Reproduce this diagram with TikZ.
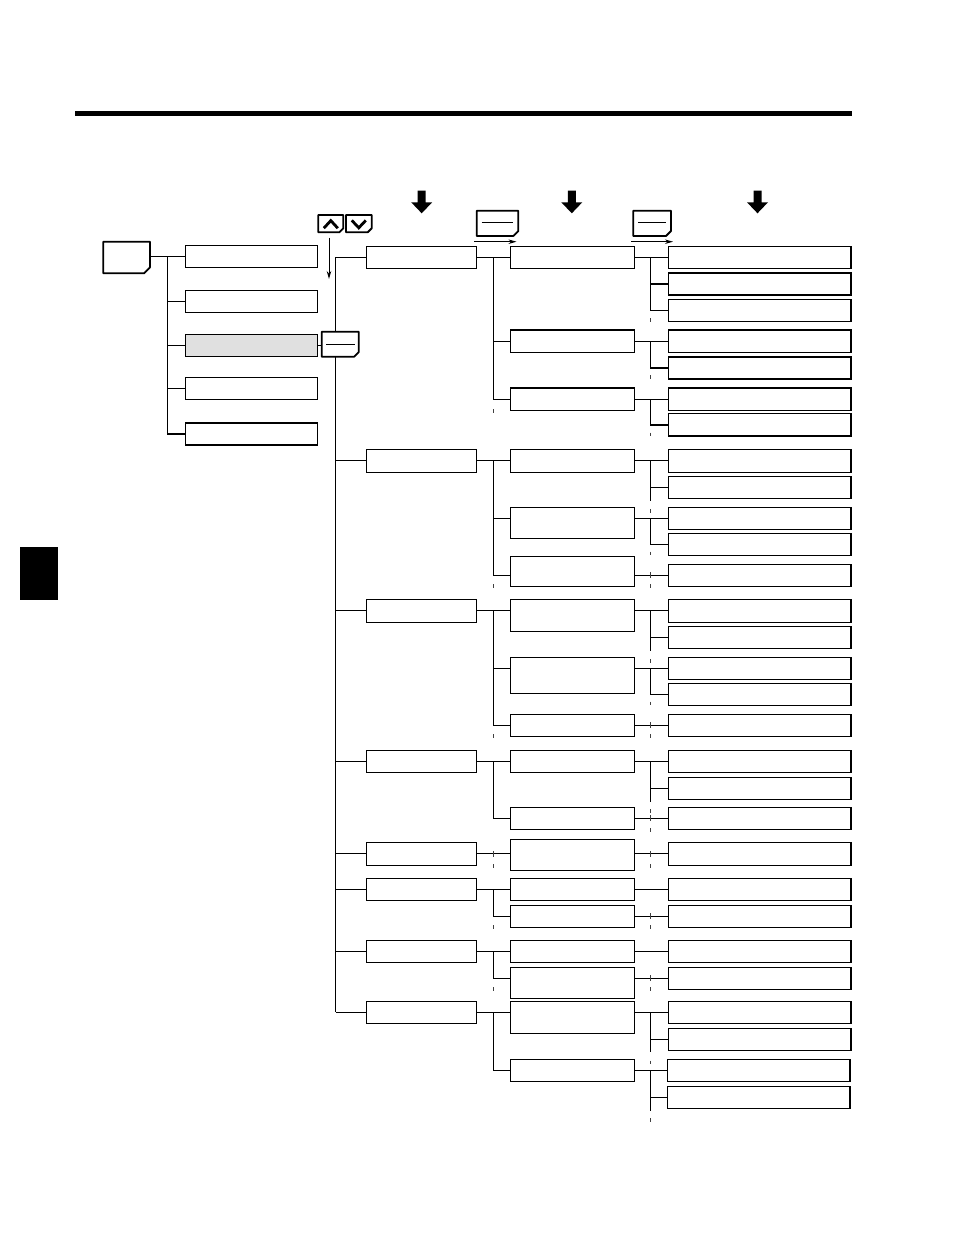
\documentclass[tikz,border=0pt]{standalone}
\usetikzlibrary{arrows.meta,backgrounds}
\begin{document}
\begin{tikzpicture}[x=1pt,y=-1pt]
\tikzset{
 box/.style={draw,line width=1.4pt,inner sep=0pt,outer sep=0pt,fill=white},
 selbox/.style={fill={rgb,255:red,224;green,224;blue,224}},
 conn/.style={line width=1.3pt},
 tickline/.style={line width=1pt,black!75},
 keyline/.style={line width=1.8pt,line join=round,fill=white},
 keyin/.style={line width=1.2pt},
 flowarrow/.style={line width=1pt,-{Stealth[length=8pt,width=4.5pt]}},
 chev/.style={line width=2.8pt,line join=miter},
}
\newcommand{\bx}[6][]{\node[box,minimum width={(#5-#3)*1pt},minimum height={(#6-#4)*1pt},#1] (#2) at ({(#3+#5)/2},{(#4+#6)/2}) {};}
\newcommand{\keyshape}[6]{%
 \node[inner sep=0pt,outer sep=0pt,minimum width={(#4-#2)*1pt},minimum height={(#5-#3)*1pt}] (#1) at ({(#2+#4)/2},{(#3+#5)/2}) {};
 \draw[keyline] (#1.north west) -- (#1.north east) -- ([yshift=#6pt]#1.south east) -- ([xshift=-#6pt]#1.south east) -- (#1.south west) -- cycle;}
\newcommand{\tk}[2]{\draw[tickline] (#1,#2) -- (#1,#2+3.5);}
\newcommand{\xs}[2]{\draw[tickline] (#1,#2-3) -- (#1,#2+3);}
\useasboundingbox (0,0) rectangle (954,1235);
% header bar and side tab
\fill (75,110.7) rectangle (852,116);
\fill (20,546.7) rectangle (57.7,599.5);
% big down arrows
\foreach \c in {421.7,571.8,757.5}{
 \fill (\c-4,190.7) -- (\c+4,190.7) -- (\c+4,202.3) -- (\c+10.5,202.3) -- (\c,213.3) -- (\c-10.5,202.3) -- (\c-4,202.3) -- cycle;}
% keys
\keyshape{kM}{103.3}{241.7}{150}{273.3}{6}
\keyshape{kE}{321.7}{331.7}{358.7}{356.7}{4.5}
\draw[keyin] ([xshift=4.5pt]kE.west) -- ([xshift=-4pt]kE.east);
\keyshape{kT1}{476.7}{210.7}{518.3}{236}{5}
\draw[keyin] ([xshift=5pt,yshift=1pt]kT1.west) -- ([xshift=-5pt,yshift=1pt]kT1.east);
\keyshape{kT2}{633.3}{210.7}{671}{236}{5}
\draw[keyin] ([xshift=5pt,yshift=1pt]kT2.west) -- ([xshift=-5pt,yshift=1pt]kT2.east);
\keyshape{kU}{318.3}{215}{343.3}{232.3}{4}
\draw[chev] (323.8,228.2) -- (330.8,220.6) -- (337.8,228.2);
\keyshape{kD}{346}{215}{371.7}{232.3}{4}
\draw[chev] (351.8,220.4) -- (358.8,227.8) -- (365.8,220.4);
% small flow arrows
\coordinate (a1s) at (474.3,241.7); \coordinate (a1e) at (516.5,241.7);
\coordinate (a2s) at (631,241.7); \coordinate (a2e) at (673,241.7);
\coordinate (a3s) at (329,237.7); \coordinate (a3e) at (329,279);
\draw[flowarrow] (a1s) -- (a1e);
\draw[flowarrow] (a2s) -- (a2e);
\draw[flowarrow] (a3s) -- (a3e);
% level 1
\bx{L1a}{185.3}{245.5}{317.7}{267.5}
\bx{L1b}{185.3}{290.3}{317.7}{312.3}
\bx[selbox]{L1c}{185.3}{334.3}{317.7}{356.3}
\bx{L1d}{185.3}{377.7}{317.7}{399.7}
\bx{L1e}{185.3}{423}{317.7}{445}
% level 2
\bx{A}{366.3}{246.3}{476.7}{268.3}
\bx{B}{366.3}{449.3}{476.7}{472.3}
\bx{C}{366.3}{599.3}{476.7}{622.3}
\bx{D}{366.3}{750.3}{476.7}{772.3}
\bx{E}{366.3}{842.3}{476.7}{865.3}
\bx{F}{366.3}{878.3}{476.7}{900.3}
\bx{G}{366.3}{940.3}{476.7}{962.3}
\bx{H}{366.3}{1001.3}{476.7}{1023.3}
% level 3
\bx{A1}{510.3}{246.3}{634.3}{268.3}
\bx{A2}{510.3}{330}{634.3}{352.3}
\bx{A3}{510.3}{388}{634.3}{410.3}
\bx{B1}{510.3}{449.3}{634.3}{472.3}
\bx{B2}{510.3}{507.3}{634.3}{538.3}
\bx{B3}{510.3}{556.3}{634.3}{586.3}
\bx{C1}{510.3}{599.3}{634.3}{631.3}
\bx{C2}{510.3}{657.3}{634.3}{693.3}
\bx{C3}{510.3}{714.3}{634.3}{736.3}
\bx{D1}{510.3}{750.3}{634.3}{772.3}
\bx{D2}{510.3}{807.3}{634.3}{829.3}
\bx{E1}{510.3}{839.3}{634.3}{870.3}
\bx{F1}{510.3}{878.3}{634.3}{900.3}
\bx{F2}{510.3}{905.3}{634.3}{927.3}
\bx{G1}{510.3}{940.3}{634.3}{962.3}
\bx{G2}{510.3}{967.3}{634.3}{998.3}
\bx{H1}{510.3}{1001.3}{634.3}{1033.3}
\bx{H2}{510.3}{1059.3}{634.3}{1081.3}
% level 4
\bx{A1a}{668.3}{246.3}{851}{268.3}
\bx{A1b}{668.3}{273}{851}{295}
\bx{A1c}{668.3}{299.3}{851}{321.3}
\bx{A2a}{668.3}{330}{851}{352.3}
\bx{A2b}{668.3}{357}{851}{379}
\bx{A3a}{668.3}{388}{851}{410.3}
\bx{A3b}{668.3}{413.7}{851}{436}
\bx{B1a}{668.3}{449.3}{851}{472.3}
\bx{B1b}{668.3}{476.3}{851}{498.3}
\bx{B2a}{668.3}{507.3}{851}{529.3}
\bx{B2b}{668.3}{533.3}{851}{555.3}
\bx{B3a}{668.3}{564.3}{851}{586.3}
\bx{C1a}{668.3}{599.3}{851}{622.3}
\bx{C1b}{668.3}{626.3}{851}{648.3}
\bx{C2a}{668.3}{657.3}{851}{679.3}
\bx{C2b}{668.3}{683.3}{851}{705.3}
\bx{C3a}{668.3}{714.3}{851}{736.3}
\bx{D1a}{668.3}{750.3}{851}{772.3}
\bx{D1b}{668.3}{777.3}{851}{799.3}
\bx{D2a}{668.3}{807.3}{851}{829.3}
\bx{E1a}{668.3}{842.3}{851}{865.3}
\bx{F1a}{668.3}{878.3}{851}{900.3}
\bx{F2a}{668.3}{905.3}{851}{927.3}
\bx{G1a}{668.3}{940.3}{851}{962.3}
\bx{G2a}{668.3}{967.3}{851}{989.3}
\bx{H1a}{668.3}{1001.3}{851}{1023.3}
\bx{H1b}{668.3}{1028.3}{851}{1050.3}
\bx{H2a}{667.3}{1059.3}{850}{1081.3}
\bx{H2b}{667.3}{1086.3}{850}{1108.3}
% connectors
\begin{scope}[on background layer]
\coordinate (v1) at (167.7,0); \coordinate (v2) at (335.5,0);
\coordinate (v3) at (493.3,0); \coordinate (v4) at (650.3,0);
\begin{scope}[conn]
% level 0 -> 1
\draw (L1a.west -| kM.east) -- (L1a.west);
\foreach \n in {L1b,L1c,L1d,L1e}{\draw (L1a.west -| v1) |- (\n.west);}
% level 1 -> 2
\draw (L1c.east) -- (L1c.east -| kE.west);
\draw (A.west -| v2) -- (H.west -| v2);
\foreach \n in {A,B,C,D,E,F,G,H}{\draw (\n.west -| v2) -- (\n.west);}
% level 2 -> 3
\draw (A.east) -- (A1.west);
\draw (A.east -| v3) |- (A2.west);
\draw (A.east -| v3) |- (A3.west);
\draw (B.east) -- (B1.west);
\draw (B.east -| v3) |- (B2.west |- B2a.west);
\draw (B.east -| v3) |- (B3.west |- B3a.west);
\draw (C.east) -- (C1.west |- C.east);
\draw (C.east -| v3) |- (C2.west |- C2a.west);
\draw (C.east -| v3) |- (C3.west);
\draw (D.east) -- (D1.west);
\draw (D.east -| v3) |- (D2.west);
\draw (E.east) -- (E1.west |- E.east);
\draw (F.east) -- (F1.west);
\draw (F.east -| v3) |- (F2.west);
\draw (G.east) -- (G1.west);
\draw (G.east -| v3) |- (G2.west |- G2a.west);
\draw (H.east) -- (H1.west |- H.east);
\draw (H.east -| v3) |- (H2.west);
% level 3 -> 4
\draw (A1.east) -- (A1a.west);
\draw (A1a.west -| v4) |- (A1b.west);
\draw (A1a.west -| v4) |- (A1c.west);
\draw (A2.east) -- (A2a.west);
\draw (A2a.west -| v4) |- (A2b.west);
\draw (A3.east) -- (A3a.west);
\draw (A3a.west -| v4) |- (A3b.west);
\draw (B1.east) -- (B1a.west);
\draw (B1a.west -| v4) |- (B1b.west);
\draw (B1b.west -| v4) -- ++(0,14);
\draw (B2.east |- B2a.west) -- (B2a.west);
\draw (B2a.west -| v4) |- (B2b.west);
\draw (B3.east |- B3a.west) -- (B3a.west);
\draw (C1.east |- C1a.west) -- (C1a.west);
\draw (C1a.west -| v4) |- (C1b.west);
\draw (C1b.west -| v4) -- ++(0,14);
\draw (C2.east |- C2a.west) -- (C2a.west);
\draw (C2a.west -| v4) |- (C2b.west);
\draw (C3.east) -- (C3a.west);
\draw (D1.east) -- (D1a.west);
\draw (D1a.west -| v4) |- (D1b.west);
\draw (D1b.west -| v4) -- ++(0,14);
\draw (D2.east) -- (D2a.west);
\draw (E1.east |- E1a.west) -- (E1a.west);
\draw (F1.east) -- (F1a.west);
\draw (F2.east) -- (F2a.west);
\draw (G1.east) -- (G1a.west);
\draw (G2.east |- G2a.west) -- (G2a.west);
\draw (H1.east |- H1a.west) -- (H1a.west);
\draw (H1a.west -| v4) |- (H1b.west);
\draw (H1b.west -| v4) -- ++(0,13);
\draw (H2.east) -- (H2a.west);
\draw (H2a.west -| v4) |- (H2b.west);
\draw (H2b.west -| v4) -- ++(0,14);
\end{scope}
\end{scope}
% continuation ticks
\foreach \y in {318,375,432.7,509,551.7,584,659,701.7,734,809,828,864,925,987,1060.7,1118}{\tk{650.3}{\y}}
\foreach \y in {575.3,725.3,818.3,853.8,916.3,978.3}{\xs{650.3}{\y}}
\foreach \y in {409,584,734,864,925,987}{\tk{493.3}{\y}}
\xs{493.3}{853.8}
\end{tikzpicture}
\end{document}
